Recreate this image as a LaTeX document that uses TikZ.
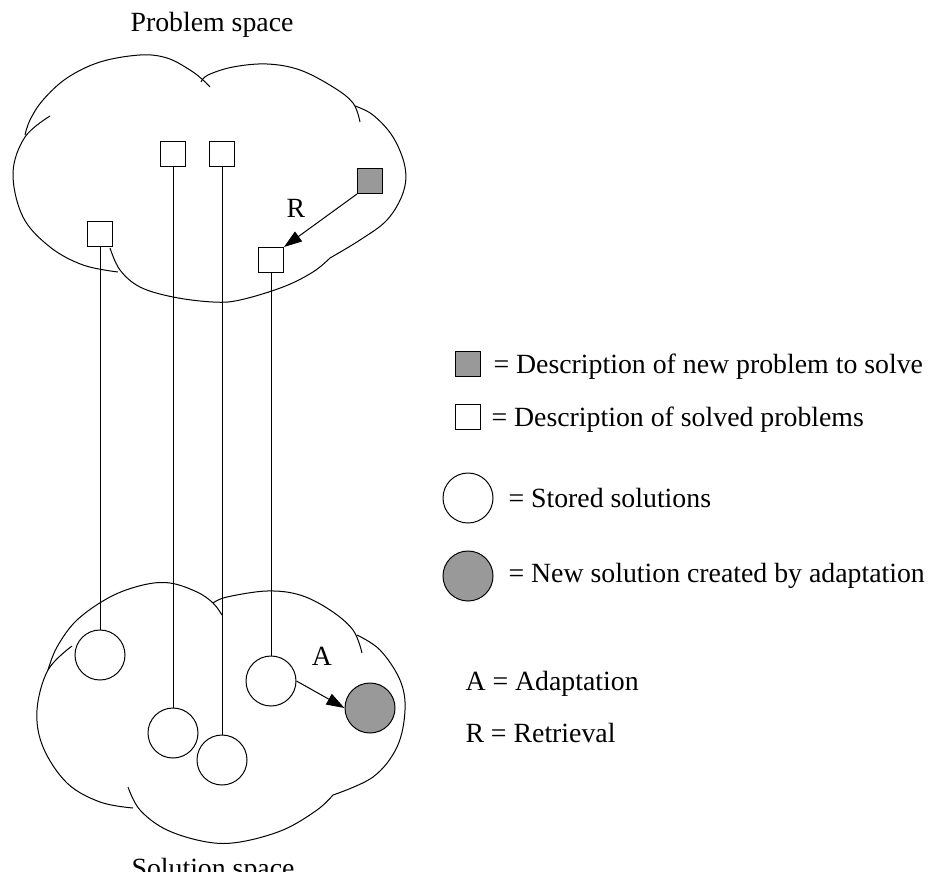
\documentclass[tikz,border=0pt]{standalone}
\usepackage{fontspec}
\setmainfont{Liberation Serif}
\usetikzlibrary{arrows.meta}

\begin{document}
\begin{tikzpicture}[x=0.5pt, y=-0.5pt, line width=0.5pt,
    font=\fontsize{13.9pt}{16pt}\selectfont,
    box/.style = {draw, minimum size=12.5pt, inner sep=0pt},
    ball/.style = {draw, circle, minimum size=25pt, inner sep=0pt},
    fresh/.style = {fill=black!40},
    lobe/.style = {smooth, tension=0.6},
    lbl/.style = {anchor=base west, inner sep=0pt},
    arr/.style = {-{Triangle[length=9pt,width=6pt]}}]
    \useasboundingbox (0,0) rectangle (931,872);

    \draw plot[lobe] coordinates {(25,135) (30,120) (43,100) (67,78) (100,62) (140,55) (167,58) (190,70) (203,80) (210,87)};
    \draw plot[lobe] coordinates {(201,82) (208,75) (233,67) (267,64) (300,70) (333,87) (353,103) (360,122)};
    \draw plot[lobe] coordinates {(355,106) (373,115) (393,137) (405,167) (403,193) (387,220) (360,240) (330,258)};
    \draw plot[lobe] coordinates {(330,258) (313,272) (283,287) (240,300) (213,302) (173,297) (140,287) (120,270) (110,248)};
    \draw plot[lobe] coordinates {(118,272) (83,265) (50,247) (23,217) (13,173) (25,137) (50,116)};

    \draw plot[lobe] coordinates {(133,808) (100,802) (67,783) (43,747) (37,710) (48,670) (72,646)};
    \draw plot[lobe] coordinates {(48,670) (57,647) (77,620) (110,597) (143,585) (170,583) (197,592) (213,603) (222,615)};
    \draw plot[lobe] coordinates {(213,603) (227,597) (267,591) (300,595) (330,610) (353,630) (362,653)};
    \draw plot[lobe] coordinates {(357,635) (380,650) (400,680) (405,710) (397,747) (373,777) (333,795)};
    \draw plot[lobe] coordinates {(333,795) (317,810) (283,830) (240,842) (207,842) (167,830) (140,810) (128,787)};

    \node[anchor=base] (ps) at (212,32) {Problem space};
    \node[anchor=base] (ss) at (213,877) {Solution space};

    \node[box] (p1) at (100,234) {};
    \node[box] (p2) at (173,154) {};
    \node[box] (p3) at (222,154) {};
    \node[box] (p4) at (271,260) {};
    \node[box, fresh] (pn) at (370,181) {};

    \node[ball, fill=white] (s1) at (100,655) {};
    \node[ball, fill=white] (s2) at (173,733) {};
    \node[ball, fill=white] (s3) at (222,760) {};
    \node[ball, fill=white] (s4) at (271,681) {};
    \node[ball, fresh] (sn) at (370,708) {};

    \draw (p1) -- (s1);
    \draw (p2) -- (s2);
    \draw (p3) -- (s3);
    \draw (p4) -- (s4);
    \draw[arr] (pn.south west) -- (p4.north east);
    \draw[arr] (s4.east) -- (sn.west);

    \node[anchor=base] (r) at (296,217) {R};
    \node[anchor=base] (a) at (322,665) {A};

    \node[box, fresh] (k1) at (468,364) {};
    \node[lbl] (t1) at (493,373) {= Description of new problem to solve};
    \node[box] (k2) at (468,417) {};
    \node[lbl] (t2) at (491,426) {= Description of solved problems};
    \node[ball] (k3) at (468,498) {};
    \node[lbl] (t3) at (508,507) {= Stored solutions};
    \node[ball, fresh] (k4) at (468,576) {};
    \node[lbl] (t4) at (508,582) {= New solution created by adaptation};
    \node[lbl] (t5) at (465,690) {A = Adaptation};
    \node[lbl] (t6) at (465,742) {R = Retrieval};
\end{tikzpicture}
\end{document}
